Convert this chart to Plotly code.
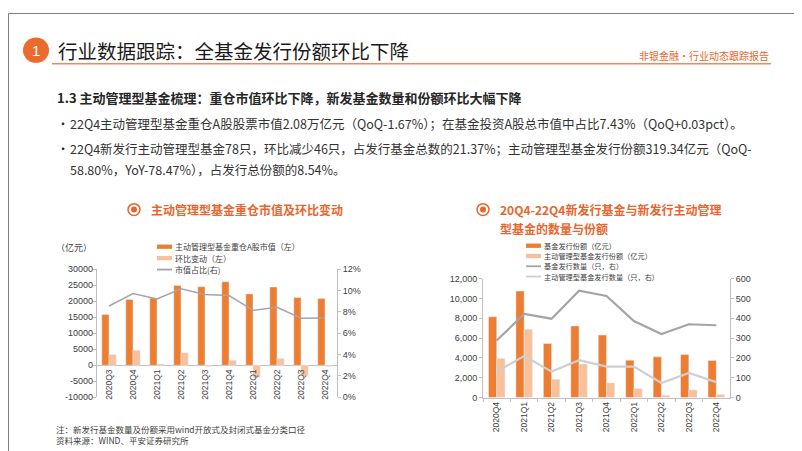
import plotly.graph_objects as go


W = 802
H = 451

# ==========================
# DATA
# ==========================

left_quarters = ["2020Q3", "2020Q4", "2021Q1", "2021Q2", "2021Q3",
                 "2021Q4", "2022Q1", "2022Q2", "2022Q3", "2022Q4"]
heavy_value = [15880, 20560, 20970, 24940, 24530, 26060, 22290, 24430, 21170, 20810]
heavy_change = [3360, 4680, 410, 3900, -410, 1530, -3770, 2140, -3260, -350]
heavy_share = [0.0855, 0.0971, 0.0922, 0.1017, 0.0962, 0.0953, 0.0815, 0.0843, 0.0740, 0.0743]
left_ticks = [-10000, -5000, 0, 5000, 10000, 15000, 20000, 25000, 30000]

right_quarters = ["2020Q4", "2021Q1", "2021Q2", "2021Q3", "2021Q4",
                  "2022Q1", "2022Q2", "2022Q3", "2022Q4"]
issue_amount = [8150, 10750, 5460, 7230, 6310, 3780, 4110, 4340, 3740]
active_amount = [3945, 6900, 1840, 3390, 1480, 920, 230, 775, 319]
issue_count = [288, 422, 398, 539, 513, 386, 321, 370, 365]
active_count = [131, 210, 131, 189, 156, 156, 74, 124, 78]

ORANGE = "#ED7D31"
PEACH = "#F8C19B"
GREY_DARK = "#A5A5A5"
GREY_LIGHT = "#CFCFCF"
TITLE_ORANGE = "#E8662E"
TEXT = "#262626"
AXIS = "#BFBFBF"
FONT = "Arial, Liberation Sans, Noto Sans CJK SC"
CJK = "Noto Sans CJK SC, Liberation Sans"


def px(x):
    return x / W


def py(y):
    return 1 - y / H


# ==========================
# FIGURE
# ==========================

fig = go.Figure()


# left chart

fig.add_trace(
    go.Bar(
        x=left_quarters,
        y=heavy_value,
        name="主动管理型基金重仓A股市值（左）",
        marker_color=ORANGE,
        xaxis="x",
        yaxis="y"
    )
)

fig.add_trace(
    go.Bar(
        x=left_quarters,
        y=heavy_change,
        name="环比变动（左）",
        marker_color=PEACH,
        xaxis="x",
        yaxis="y"
    )
)

fig.add_trace(
    go.Scatter(
        x=left_quarters,
        y=heavy_share,
        name="市值占比(右)",
        mode="lines",
        line=dict(color=GREY_DARK, width=1.5),
        xaxis="x",
        yaxis="y2"
    )
)


# right chart

fig.add_trace(
    go.Bar(
        x=right_quarters,
        y=issue_amount,
        name="基金发行份额（亿元）",
        marker_color=ORANGE,
        xaxis="x2",
        yaxis="y3"
    )
)

fig.add_trace(
    go.Bar(
        x=right_quarters,
        y=active_amount,
        name="主动管理型基金发行份额（亿元）",
        marker_color=PEACH,
        xaxis="x2",
        yaxis="y3"
    )
)

fig.add_trace(
    go.Scatter(
        x=right_quarters,
        y=issue_count,
        name="基金发行数量（只，右）",
        mode="lines",
        line=dict(color=GREY_DARK, width=2.2),
        xaxis="x2",
        yaxis="y4"
    )
)

fig.add_trace(
    go.Scatter(
        x=right_quarters,
        y=active_count,
        name="主动管理型基金发行数量（只，右）",
        mode="lines",
        line=dict(color=GREY_LIGHT, width=2.2),
        xaxis="x2",
        yaxis="y4"
    )
)


# ==========================
# AXES
# ==========================

tick_font = dict(family=FONT, size=9, color="#404040")

axis_common = dict(
    showgrid=False,
    zeroline=False,
    showline=True,
    linecolor=AXIS,
    linewidth=1,
    ticks="outside",
    ticklen=3,
    tickcolor=AXIS,
    tickfont=tick_font
)

fig.update_layout(

    # left chart: category labels are hung on the zero line further down
    xaxis=dict(
        domain=[px(89), px(329)],
        anchor="y",
        type="category",
        showline=False,
        showgrid=False,
        zeroline=False,
        ticks="",
        showticklabels=False
    ),

    yaxis=dict(
        axis_common,
        domain=[py(393), py(262)],
        anchor="x",
        range=[-10000, 30000],
        tickvals=left_ticks,
        showticklabels=False,
        zeroline=True,
        zerolinecolor=AXIS,
        zerolinewidth=1
    ),

    yaxis2=dict(
        axis_common,
        overlaying="y",
        side="right",
        anchor="x",
        range=[0, 0.12],
        dtick=0.02,
        tickformat=".0%"
    ),

    xaxis2=dict(
        axis_common,
        domain=[px(475), px(722)],
        anchor="y3",
        type="category",
        tickson="boundaries",
        tickangle=-90,
        tickfont=dict(family=FONT, size=8.5, color="#404040")
    ),

    yaxis3=dict(
        axis_common,
        domain=[py(393.3), py(271.7)],
        anchor="x2",
        range=[0, 12000],
        dtick=2000,
        tickformat=",d"
    ),

    yaxis4=dict(
        axis_common,
        overlaying="y3",
        side="right",
        anchor="x2",
        range=[0, 600],
        dtick=100
    )

)


# ==========================
# SLIDE DECORATION
# ==========================

shapes = []
annotations = []


def text(x, y, s, size, color=TEXT, bold=False, anchor="left", family=CJK, pad=1):
    if bold:
        s = "<b>" + s + "</b>"
    annotations.append(
        dict(
            x=px(x), y=py(y), xref="paper", yref="paper",
            text=s, showarrow=False,
            xanchor=anchor, yanchor="middle", borderpad=pad,
            font=dict(family=family, size=size, color=color)
        )
    )


# left chart category labels, placed on the zero line through the axes
for q in left_quarters:
    annotations.append(
        dict(
            x=q, y=0, xref="x", yref="y",
            text=q, showarrow=False, textangle=-90,
            xanchor="center", yanchor="top", yshift=-2,
            font=dict(family=FONT, size=8.5, color="#404040")
        )
    )

# left value labels (plotly drops the negative ones when drawn as ticks)
for v in left_ticks:
    annotations.append(
        dict(
            x=px(86), y=v, xref="paper", yref="y",
            text=str(v), showarrow=False,
            xanchor="right", yanchor="middle", borderpad=0,
            font=tick_font
        )
    )

# border
shapes.append(dict(type="rect", xref="paper", yref="paper",
                   x0=px(0.5), x1=px(800.5), y0=py(449.5), y1=py(0.5),
                   line=dict(color="#7F7F7F", width=1)))

# header
shapes.append(dict(type="circle", xref="paper", yref="paper",
                   x0=px(15), x1=px(41), y0=py(51), y1=py(25),
                   fillcolor="#EB6A2D", line=dict(width=0)))
text(28, 38, "1", 15, color="white", anchor="center", family=FONT)
text(48, 38, "行业数据跟踪：全基金发行份额环比下降", 19.5, color="#1a1a1a")
text(763, 43, "非银金融·行业动态跟踪报告", 10, color=TITLE_ORANGE, anchor="right")
shapes.append(dict(type="line", xref="paper", yref="paper",
                   x0=px(44), x1=px(763), y0=py(52), y1=py(52),
                   line=dict(color="#F08A5D", width=1.5)))

# body text
text(47, 86, "1.3 主动管理型基金梳理：重仓市值环比下降，新发基金数量和份额环比大幅下降", 13, bold=True)
text(47, 113, "•", 12)
text(60, 113, "22Q4主动管理型基金重仓A股股票市值2.08万亿元（QoQ-1.67%）；在基金投资A股总市值中占比7.43%（QoQ+0.03pct）。", 12.5, color="#333333")
text(47, 139, "•", 12)
text(60, 139, "22Q4新发行主动管理型基金78只，环比减少46只，占发行基金总数的21.37%；主动管理型基金发行份额319.34亿元（QoQ-", 12.5, color="#333333")
text(60, 160, "58.80%，YoY-78.47%），占发行总份额的8.54%。", 12.5, color="#333333")

# chart titles
for cx, cy in [(126, 201), (475, 201)]:
    shapes.append(dict(type="circle", xref="paper", yref="paper",
                       x0=px(cx - 6), x1=px(cx + 6), y0=py(cy + 6), y1=py(cy - 6),
                       line=dict(color=TITLE_ORANGE, width=1.5)))
    shapes.append(dict(type="circle", xref="paper", yref="paper",
                       x0=px(cx - 3), x1=px(cx + 3), y0=py(cy + 3), y1=py(cy - 3),
                       fillcolor=TITLE_ORANGE, line=dict(width=0)))

text(141, 201, "主动管理型基金重仓市值及环比变动", 12, color=TITLE_ORANGE, bold=True)
text(490, 201, "20Q4-22Q4新发行基金与新发行主动管理", 12, color=TITLE_ORANGE, bold=True)
text(490, 220, "型基金的数量与份额", 12, color=TITLE_ORANGE, bold=True)

text(46, 240, "（亿元）", 9, color="#404040")


# hand-drawn legends (tight rows like the source)
def legend_rows(x0, y0, step, size, names, kinds):
    for i, (name, kind) in enumerate(zip(names, kinds)):
        y = y0 + i * step
        color, style = kind
        if style == "bar":
            shapes.append(dict(type="rect", xref="paper", yref="paper",
                               x0=px(x0), x1=px(x0 + 15), y0=py(y + 2.2), y1=py(y - 2.2),
                               fillcolor=color, line=dict(width=0)))
        else:
            shapes.append(dict(type="line", xref="paper", yref="paper",
                               x0=px(x0), x1=px(x0 + 15), y0=py(y), y1=py(y),
                               line=dict(color=color, width=1.8)))
        text(x0 + 17, y, name, size, color="#404040", pad=0)


legend_rows(149, 239, 11.7, 8,
            ["主动管理型基金重仓A股市值（左）", "环比变动（左）", "市值占比(右)"],
            [(ORANGE, "bar"), (PEACH, "bar"), (GREY_DARK, "line")])

legend_rows(518, 238, 10.5, 7.2,
            ["基金发行份额（亿元）", "主动管理型基金发行份额（亿元）",
             "基金发行数量（只，右）", "主动管理型基金发行数量（只，右）"],
            [(ORANGE, "bar"), (PEACH, "bar"), (GREY_DARK, "line"), (GREY_LIGHT, "line")])

# notes
text(46, 425, "注：新发行基金数量及份额采用wind开放式及封闭式基金分类口径", 8.5, color="#404040")
text(46, 437, "资料来源：WIND、平安证券研究所", 8.5, color="#404040")
text(793, 440, "6", 8, color="#7F7F7F", anchor="center", family=FONT)


fig.update_layout(

    width=W,
    height=H,
    margin=dict(l=0, r=0, t=0, b=0),
    paper_bgcolor="white",
    plot_bgcolor="white",
    showlegend=False,
    barmode="group",
    bargap=0.4,
    bargroupgap=0,
    shapes=shapes,
    annotations=annotations,
    font=dict(family=FONT, color=TEXT)

)


fig.write_html("out.html")
